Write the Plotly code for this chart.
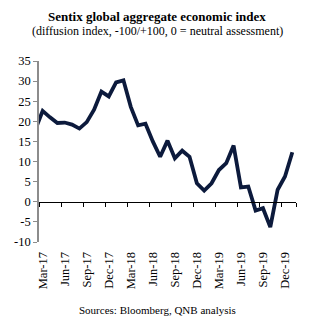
import plotly.graph_objects as go

# Sentix global aggregate, monthly (Feb-17 .. Jan-20)
months = ["Feb-17", "Mar-17", "Apr-17", "May-17", "Jun-17", "Jul-17", "Aug-17", "Sep-17",
          "Oct-17", "Nov-17", "Dec-17", "Jan-18", "Feb-18", "Mar-18", "Apr-18", "May-18",
          "Jun-18", "Jul-18", "Aug-18", "Sep-18", "Oct-18", "Nov-18", "Dec-18", "Jan-19",
          "Feb-19", "Mar-19", "Apr-19", "May-19", "Jun-19", "Jul-19", "Aug-19", "Sep-19",
          "Oct-19", "Nov-19", "Dec-19", "Jan-20"]
sentix = [17.9, 22.6, 21.0, 19.6, 19.7, 19.2, 18.2, 19.8,
          22.9, 27.4, 26.2, 29.7, 30.2, 23.6, 19.0, 19.4,
          15.0, 11.2, 15.2, 10.8, 12.7, 11.2, 4.6, 2.8,
          4.6, 7.9, 9.6, 14.0, 3.6, 3.8, -2.2, -1.6,
          -6.3, 3.0, 6.3, 12.3]

tick_labels = ["Mar-17", "Jun-17", "Sep-17", "Dec-17", "Mar-18", "Jun-18",
               "Sep-18", "Dec-18", "Mar-19", "Jun-19", "Sep-19", "Dec-19"]
y_ticks = [-10, -5, 0, 5, 10, 15, 20, 25, 30, 35]

# month index, Mar-17 = 0
idx = [i - 1 for i in range(len(months))]
x_min, x_max = -0.5, idx[-1] + 0.5
y_min, y_max = -10, 35

FONT = "Liberation Serif, Times New Roman, serif"

fig = go.Figure()
fig.add_trace(go.Scatter(
    x=idx, y=sentix, mode="lines",
    line=dict(color="#0c1a3c", width=3.8),
    text=months, hoverinfo="text+y", showlegend=False,
))
# invisible helper trace so the secondary x axis (drawn at y = 0) exists
fig.add_trace(go.Scatter(x=[x_min, x_max], y=[0, 0], xaxis="x2", mode="lines",
                         line=dict(width=0), hoverinfo="skip", showlegend=False))

label_pos = [months.index(t) - 1 for t in tick_labels]
fig.update_layout(
    width=329, height=327,
    margin=dict(l=39, r=33, t=61, b=85),
    paper_bgcolor="white", plot_bgcolor="white",
    font=dict(family=FONT, size=12, color="black"),
    xaxis=dict(
        range=[x_min, x_max], tickmode="array", tickvals=label_pos, ticktext=tick_labels,
        tickangle=-90, showgrid=False, zeroline=False, showline=False,
        ticks="outside", ticklen=4, tickcolor="rgba(0,0,0,0)",
        tickfont=dict(family=FONT, size=12.5, color="black"),
    ),
    xaxis2=dict(
        overlaying="x", anchor="free",
        position=(0 - y_min) / (y_max - y_min),
        range=[x_min, x_max], tickmode="array",
        tickvals=[v - 0.5 for v in label_pos] + [x_max],
        showticklabels=False, showgrid=False, zeroline=False,
        showline=True, linecolor="black", linewidth=1,
        ticks="outside", ticklen=4, tickcolor="black", tickwidth=1,
    ),
    yaxis=dict(
        range=[y_min, y_max], tickmode="array", tickvals=y_ticks,
        ticktext=[str(v) for v in y_ticks],
        showgrid=False, zeroline=False, showline=True, linecolor="#8c8c8c", linewidth=1.5,
        ticks="outside", ticklen=4, tickcolor="#8c8c8c", tickwidth=1,
        tickfont=dict(family=FONT, size=12.5, color="black"),
    ),
    annotations=[
        dict(text="<b>Sentix global aggregate economic index</b>", xref="paper", yref="paper",
             x=0.46, y=1, yshift=45, xanchor="center", yanchor="middle", showarrow=False,
             font=dict(family=FONT, size=13, color="black")),
        dict(text="(diffusion index, -100/+100, 0 = neutral assessment)", xref="paper", yref="paper",
             x=0.46, y=1, yshift=30, xanchor="center", yanchor="middle", showarrow=False,
             font=dict(family=FONT, size=12, color="black")),
        dict(text="Sources: Bloomberg, QNB analysis", xref="paper", yref="paper",
             x=0.46, y=0, yshift=-68, xanchor="center", yanchor="middle", showarrow=False,
             font=dict(family=FONT, size=11, color="black")),
    ],
)

fig.write_html("out.html")
